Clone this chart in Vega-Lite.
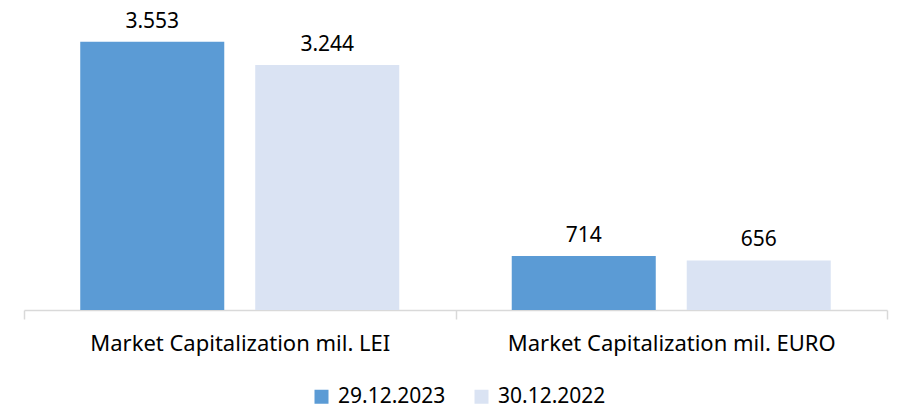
{
  "$schema": "https://vega.github.io/schema/vega-lite/v6.json",
  "width": 863,
  "height": 302,
  "autosize": {"type": "none"},
  "padding": {"left": 24, "right": 10, "top": 8, "bottom": 106},
  "background": "white",
  "config": {
    "view": {"stroke": null},
    "font": "Noto Sans",
    "locale": {"number": {"decimal": ",", "thousands": ".", "grouping": [3], "currency": ["", ""]}}
  },
  "data": {
    "values": [
      {"category": "Market Capitalization mil. LEI", "series": "29.12.2023", "value": 3553},
      {"category": "Market Capitalization mil. LEI", "series": "30.12.2022", "value": 3244},
      {"category": "Market Capitalization mil. EURO", "series": "29.12.2023", "value": 714},
      {"category": "Market Capitalization mil. EURO", "series": "30.12.2022", "value": 656}
    ]
  },
  "encoding": {
    "x": {
      "field": "category", "type": "nominal", "sort": null,
      "scale": {"paddingInner": 0, "paddingOuter": 0},
      "axis": {
        "title": null, "labelAngle": 0, "labelFontSize": 22, "labelColor": "#000000",
        "labelPadding": 14, "labelLimit": 0, "domainColor": "#d9d9d9", "domainWidth": 1.5,
        "tickColor": "#d9d9d9", "tickWidth": 1.5, "tickSize": 9, "tickBand": "extent",
        "labelFont": "Noto Sans"
      }
    },
    "xOffset": {
      "field": "series", "type": "nominal", "sort": null,
      "scale": {"paddingInner": 0.177, "paddingOuter": 0.3214}
    },
    "y": {
      "field": "value", "type": "quantitative",
      "scale": {"domain": [0, 4000]},
      "axis": null
    }
  },
  "layer": [
    {
      "mark": {"type": "bar"},
      "encoding": {
        "color": {
          "field": "series", "type": "nominal", "sort": null,
          "scale": {"domain": ["29.12.2023", "30.12.2022"], "range": ["#5B9BD5", "#DAE3F3"]},
          "legend": {
            "title": null, "orient": "none", "legendX": 287, "legendY": 378, "direction": "horizontal",
            "symbolType": "square", "symbolSize": 196, "symbolStrokeWidth": 0,
            "labelFontSize": 21, "labelColor": "#000000", "labelFont": "Noto Sans",
            "columnPadding": 25, "symbolOpacity": 1, "labelOffset": 6
          }
        }
      }
    },
    {
      "mark": {"type": "text", "dy": -20, "fontSize": 21, "color": "#000000", "font": "Noto Sans"},
      "encoding": {
        "text": {"field": "value", "type": "quantitative", "format": ",d"}
      }
    }
  ]
}
